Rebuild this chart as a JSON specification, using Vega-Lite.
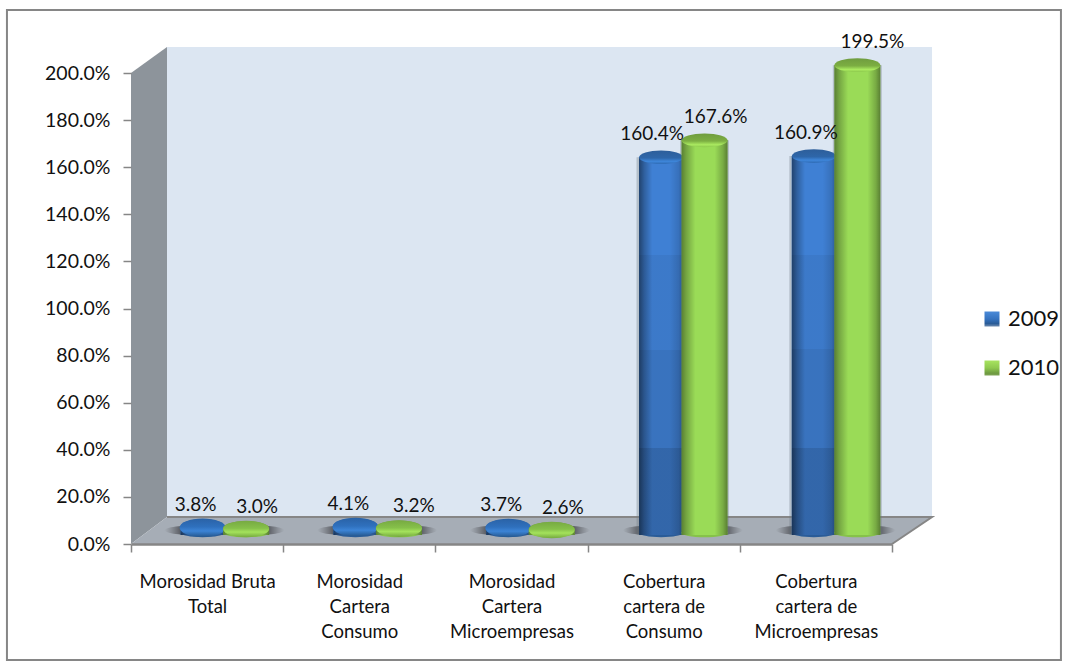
{
  "$schema": "https://vega.github.io/schema/vega-lite/v6.json",
  "width": 761,
  "height": 471,
  "autosize": "none",
  "padding": {"left": 131, "top": 73, "right": 175, "bottom": 122},
  "background": "white",
  "config": {"view": {"stroke": null}, "font": "Lato"},
  "datasets": {
    "indicadores": [
      {"indicador": "Morosidad Bruta Total", "anio": "2009", "valor": 0.038},
      {"indicador": "Morosidad Bruta Total", "anio": "2010", "valor": 0.030},
      {"indicador": "Morosidad Cartera Consumo", "anio": "2009", "valor": 0.041},
      {"indicador": "Morosidad Cartera Consumo", "anio": "2010", "valor": 0.032},
      {"indicador": "Morosidad Cartera Microempresas", "anio": "2009", "valor": 0.037},
      {"indicador": "Morosidad Cartera Microempresas", "anio": "2010", "valor": 0.026},
      {"indicador": "Cobertura cartera de Consumo", "anio": "2009", "valor": 1.604},
      {"indicador": "Cobertura cartera de Consumo", "anio": "2010", "valor": 1.676},
      {"indicador": "Cobertura cartera de Microempresas", "anio": "2009", "valor": 1.609},
      {"indicador": "Cobertura cartera de Microempresas", "anio": "2010", "valor": 1.995}
    ]
  },
  "resolve": {"scale": {"x": "independent", "y": "independent"}},
  "layer": [
    {
      "description": "Chart frame and the three faces of the 3D box, in axis units",
      "encoding": {
        "x": {"field": "u", "type": "quantitative", "axis": null, "scale": {"domain": [0, 5], "range": [0, 761], "nice": false, "zero": false}},
        "y": {"field": "v", "type": "quantitative", "axis": null, "scale": {"domain": [0, 2], "range": [471, 0], "nice": false, "zero": false}}
      },
      "layer": [
        {
          "data": {"values": [{"u": -0.815, "u2": 6.11, "v": 2.2675, "v2": -0.4926}]},
          "mark": {"type": "rect", "fill": "white", "stroke": "#868686", "strokeWidth": 2, "clip": false},
          "encoding": {"x2": {"field": "u2"}, "y2": {"field": "v2"}}
        },
        {
          "data": {"values": [{"u": 0.2365, "u2": 5.263, "v": 2.11, "v2": 0.1146}]},
          "mark": {"type": "rect", "fill": "#dce6f2"},
          "encoding": {"x2": {"field": "u2"}, "y2": {"field": "v2"}}
        },
        {
          "data": {"values": [{"u": 0, "v": 2, "v2": 0}, {"u": 0.2365, "v": 2.11, "v2": 0.1146}]},
          "mark": {"type": "area", "orient": "vertical", "fill": "#8d949b"},
          "encoding": {"y2": {"field": "v2"}}
        },
        {
          "data": {"values": [{"u": 0, "v": 0, "v2": 0}, {"u": 0.2365, "v": 0.1146, "v2": 0}, {"u": 5, "v": 0.1146, "v2": 0}, {"u": 5.263, "v": 0.1146, "v2": 0.1146}]},
          "mark": {"type": "area", "orient": "vertical", "fill": "#a6adb6"},
          "encoding": {"y2": {"field": "v2"}}
        },
        {
          "data": {"values": [{"orden": 1, "u": 0.2365, "v": 0.1146}, {"orden": 2, "u": 5.263, "v": 0.1146}, {"orden": 3, "u": 5, "v": 0}]},
          "mark": {"type": "line", "stroke": "#868686", "strokeWidth": 2},
          "encoding": {"order": {"field": "orden", "type": "ordinal"}}
        }
      ]
    },
    {
      "description": "Axes drawn at the front edge of the box",
      "data": {"name": "indicadores"},
      "mark": {"type": "bar", "opacity": 0},
      "encoding": {
        "x": {
          "field": "indicador", "type": "nominal", "sort": null, "title": null,
          "scale": {"range": [0, 761], "paddingInner": 0, "paddingOuter": 0},
          "axis": {
            "orient": "bottom", "zindex": 1, "tickBand": "extent", "labelAngle": 0, "grid": false,
            "domainColor": "#868686", "domainWidth": 2.5, "tickColor": "#868686", "tickWidth": 1.5, "tickSize": 8,
            "labelFont": "Lato", "labelFontSize": 18.5, "labelColor": "#111111", "labelPadding": 20,
            "labelLineHeight": 25, "labelBaseline": "top", "labelOverlap": false, "labelLimit": 300,
            "labelExpr": "{'Morosidad Bruta Total':['Morosidad Bruta','Total'],'Morosidad Cartera Consumo':['Morosidad','Cartera','Consumo'],'Morosidad Cartera Microempresas':['Morosidad','Cartera','Microempresas'],'Cobertura cartera de Consumo':['Cobertura','cartera de','Consumo'],'Cobertura cartera de Microempresas':['Cobertura','cartera de','Microempresas']}[datum.label]"
          }
        },
        "y": {
          "field": "valor", "type": "quantitative", "title": null,
          "scale": {"domain": [0, 2], "range": [471, 0], "nice": false},
          "axis": {
            "orient": "left", "zindex": 1, "values": [0, 0.2, 0.4, 0.6, 0.8, 1, 1.2, 1.4, 1.6, 1.8, 2], "format": ".1%", "grid": false, "domain": false,
            "tickColor": "#868686", "tickWidth": 1.5, "tickSize": 8,
            "labelFont": "Lato", "labelFontSize": 19.5, "labelColor": "#111111", "labelPadding": 13
          }
        }
      }
    },
    {
      "description": "Cylinders, set back by half the depth of the box",
      "data": {"name": "indicadores"},
      "encoding": {
        "x": {"field": "indicador", "type": "nominal", "sort": null, "axis": null, "scale": {"range": [17, 781], "paddingInner": 0, "paddingOuter": 0}},
        "xOffset": {"field": "anio", "type": "nominal", "scale": {"domain": ["2009", "2010"], "paddingInner": 0, "paddingOuter": 0.756}},
        "y": {"field": "valor", "type": "quantitative", "axis": null, "stack": null, "scale": {"domain": [0, 2], "range": [462, -9], "nice": false}}
      },
      "layer": [
        {
          "mark": {"type": "point", "shape": "M-1,0 A1,0.14 0 1,0 1,0 A1,0.14 0 1,0 -1,0 Z", "filled": true, "size": 5800, "opacity": 1,
            "fill": {"gradient": "radial", "x1": 0.5, "y1": 0.5, "r1": 0, "x2": 0.5, "y2": 0.5, "r2": 0.5,
              "stops": [{"offset": 0, "color": "rgba(45,45,50,0.9)"}, {"offset": 0.6, "color": "rgba(45,45,50,0.6)"}, {"offset": 1, "color": "rgba(70,70,75,0)"}]}},
          "encoding": {"y": {"datum": 0.02}}
        },
        {
          "transform": [{"filter": "datum.valor > 1"}],
          "mark": {"type": "bar", "width": 49, "fill": "rgba(110,120,130,0.35)"}
        },
        {
          "transform": [{"filter": "datum.anio == '2009'"}],
          "layer": [
            {
              "mark": {"type": "point", "shape": "M-1,-0.1 A1,0.2 0 1,0 1,-0.1 A1,0.2 0 1,0 -1,-0.1 Z", "filled": true, "size": 1936, "opacity": 1, "fill": "#2a5c98"},
              "encoding": {"y": {"datum": 0}}
            },
            {
              "description": "Carries the legend; its gradient shows only in the symbols",
              "mark": {"type": "bar", "width": 44},
              "encoding": {
                "color": {
                  "field": "anio", "type": "nominal", "title": null,
                  "scale": {"domain": ["2009", "2010"], "range": [
                    {"expr": "{gradient:'linear',x1:0,y1:0,x2:0,y2:1,stops:[{offset:0,color:'#4a8ad8'},{offset:0.5,color:'#3573c0'},{offset:0.8,color:'#2a5c98'},{offset:1,color:'#6d8aae'}]}"},
                    {"expr": "{gradient:'linear',x1:0,y1:0,x2:0,y2:1,stops:[{offset:0,color:'#a8e460'},{offset:0.5,color:'#8fc94f'},{offset:0.85,color:'#6e9a40'},{offset:1,color:'#7fa456'}]}"}
                  ]},
                  "legend": {
                    "orient": "none", "legendX": 850, "legendY": 235, "symbolType": "square", "symbolSize": 225,
                    "symbolStrokeWidth": 0, "labelFont": "Lato", "labelFontSize": 22, "labelColor": "#111111", "labelOffset": 5, "rowPadding": 27
                  }
                }
              }
            },
            {"mark": {"type": "bar", "width": 44, "fill": "#3f80d4"}},
            {
              "mark": {"type": "bar", "width": 44,
                "fill": {"gradient": "linear", "x1": 0, "y1": 0, "x2": 0, "y2": 1, "stops": [
                  {"offset": 0, "color": "rgba(0,0,0,0)"}, {"offset": 0.26, "color": "rgba(0,0,0,0)"},
                  {"offset": 0.26, "color": "rgba(0,0,0,0.05)"}, {"offset": 0.51, "color": "rgba(0,0,0,0.05)"},
                  {"offset": 0.51, "color": "rgba(0,0,0,0.1)"}, {"offset": 0.77, "color": "rgba(0,0,0,0.1)"},
                  {"offset": 0.77, "color": "rgba(0,0,0,0.2)"}, {"offset": 1, "color": "rgba(0,0,0,0.2)"}]}}
            },
            {
              "mark": {"type": "bar", "width": 44,
                "fill": {"gradient": "linear", "x1": 0, "y1": 0, "x2": 1, "y2": 0, "stops": [
                  {"offset": 0, "color": "rgba(0,0,0,0.48)"}, {"offset": 0.12, "color": "rgba(0,0,0,0.25)"},
                  {"offset": 0.3, "color": "rgba(0,0,0,0)"}, {"offset": 0.7, "color": "rgba(0,0,0,0)"},
                  {"offset": 0.9, "color": "rgba(0,0,0,0.12)"}, {"offset": 1, "color": "rgba(0,0,0,0.3)"}]}}
            },
            {
              "mark": {"type": "point", "shape": "M-1,0 A1,0.31 0 1,0 1,0 A1,0.31 0 1,0 -1,0 Z", "filled": true, "size": 1936, "opacity": 1,
                "fill": {"gradient": "linear", "x1": 0, "y1": 0, "x2": 0, "y2": 1, "stops": [
                  {"offset": 0, "color": "#2d5e9a"}, {"offset": 0.55, "color": "#2e66a9"}, {"offset": 0.8, "color": "#3e86da"}, {"offset": 1, "color": "#2f6cb5"}]}}
            },
            {
              "description": "Very short cylinders read as a single flattened disc",
              "transform": [{"filter": "datum.valor < 1"}],
              "mark": {"type": "point", "shape": "M-1,0.07 A1,0.4 0 1,0 1,0.07 A1,0.4 0 1,0 -1,0.07 Z", "filled": true, "size": 2116, "opacity": 1,
                "fill": {"gradient": "linear", "x1": 0, "y1": 0, "x2": 0, "y2": 1, "stops": [
                  {"offset": 0, "color": "#2a62a6"}, {"offset": 0.45, "color": "#2f70bd"}, {"offset": 0.68, "color": "#3c84d6"}, {"offset": 1, "color": "#25588f"}]}}
            }
          ]
        },
        {
          "transform": [{"filter": "datum.anio == '2010'"}],
          "layer": [
            {
              "mark": {"type": "point", "shape": "M-1,-0.1 A1,0.2 0 1,0 1,-0.1 A1,0.2 0 1,0 -1,-0.1 Z", "filled": true, "size": 2116, "opacity": 1, "fill": "#86c24a"},
              "encoding": {"y": {"datum": 0}}
            },
            {"mark": {"type": "bar", "width": 46, "fill": "#9adb57"}},
            {
              "mark": {"type": "bar", "width": 46,
                "fill": {"gradient": "linear", "x1": 0, "y1": 0, "x2": 1, "y2": 0, "stops": [
                  {"offset": 0, "color": "rgba(0,0,0,0.42)"}, {"offset": 0.1, "color": "rgba(0,0,0,0.25)"},
                  {"offset": 0.3, "color": "rgba(0,0,0,0)"}, {"offset": 0.72, "color": "rgba(0,0,0,0)"},
                  {"offset": 0.9, "color": "rgba(0,0,0,0.22)"}, {"offset": 1, "color": "rgba(0,0,0,0.42)"}]}}
            },
            {
              "mark": {"type": "point", "shape": "M-1,0 A1,0.3 0 1,0 1,0 A1,0.3 0 1,0 -1,0 Z", "filled": true, "size": 2116, "opacity": 1,
                "fill": {"gradient": "linear", "x1": 0, "y1": 0, "x2": 0, "y2": 1, "stops": [
                  {"offset": 0, "color": "#6f9c3f"}, {"offset": 0.55, "color": "#7cae42"}, {"offset": 0.82, "color": "#aaea60"}, {"offset": 1, "color": "#8cc84c"}]}}
            },
            {
              "transform": [{"filter": "datum.valor < 1"}],
              "mark": {"type": "point", "shape": "M-1,0.05 A1,0.36 0 1,0 1,0.05 A1,0.36 0 1,0 -1,0.05 Z", "filled": true, "size": 2116, "opacity": 1,
                "fill": {"gradient": "linear", "x1": 0, "y1": 0, "x2": 0, "y2": 1, "stops": [
                  {"offset": 0, "color": "#77aa42"}, {"offset": 0.45, "color": "#86c04a"}, {"offset": 0.68, "color": "#a4e25c"}, {"offset": 1, "color": "#74a83e"}]}}
            }
          ]
        },
        {
          "description": "Value labels, each nudged clear of its neighbour",
          "encoding": {
            "text": {"field": "valor", "type": "quantitative", "format": ".1%"}
          },
          "layer": [
            {"transform": [{"filter": "datum.anio == '2009' && datum.valor < 1"}],
             "mark": {"type": "text", "font": "Lato", "fontSize": 19, "fill": "#111111", "baseline": "middle", "dx": -7, "dy": -21}},
            {"transform": [{"filter": "datum.anio == '2010' && datum.valor < 1 && datum.valor != 0.032"}],
             "mark": {"type": "text", "font": "Lato", "fontSize": 19, "fill": "#111111", "baseline": "middle", "dx": 11, "dy": -21}},
            {"transform": [{"filter": "datum.valor == 0.032"}],
             "mark": {"type": "text", "font": "Lato", "fontSize": 19, "fill": "#111111", "baseline": "middle", "dx": 15, "dy": -21}},
            {"transform": [{"filter": "datum.valor == 1.604"}],
             "mark": {"type": "text", "font": "Lato", "fontSize": 19, "fill": "#111111", "baseline": "middle", "dx": -9, "dy": -23}},
            {"transform": [{"filter": "datum.valor == 1.676"}],
             "mark": {"type": "text", "font": "Lato", "fontSize": 19, "fill": "#111111", "baseline": "middle", "dx": 11, "dy": -23}},
            {"transform": [{"filter": "datum.valor == 1.609"}],
             "mark": {"type": "text", "font": "Lato", "fontSize": 19, "fill": "#111111", "baseline": "middle", "dx": -8, "dy": -23}},
            {"transform": [{"filter": "datum.valor == 1.995"}],
             "mark": {"type": "text", "font": "Lato", "fontSize": 19, "fill": "#111111", "baseline": "middle", "dx": 15, "dy": -23}}
          ]
        }
      ]
    }
  ]
}
